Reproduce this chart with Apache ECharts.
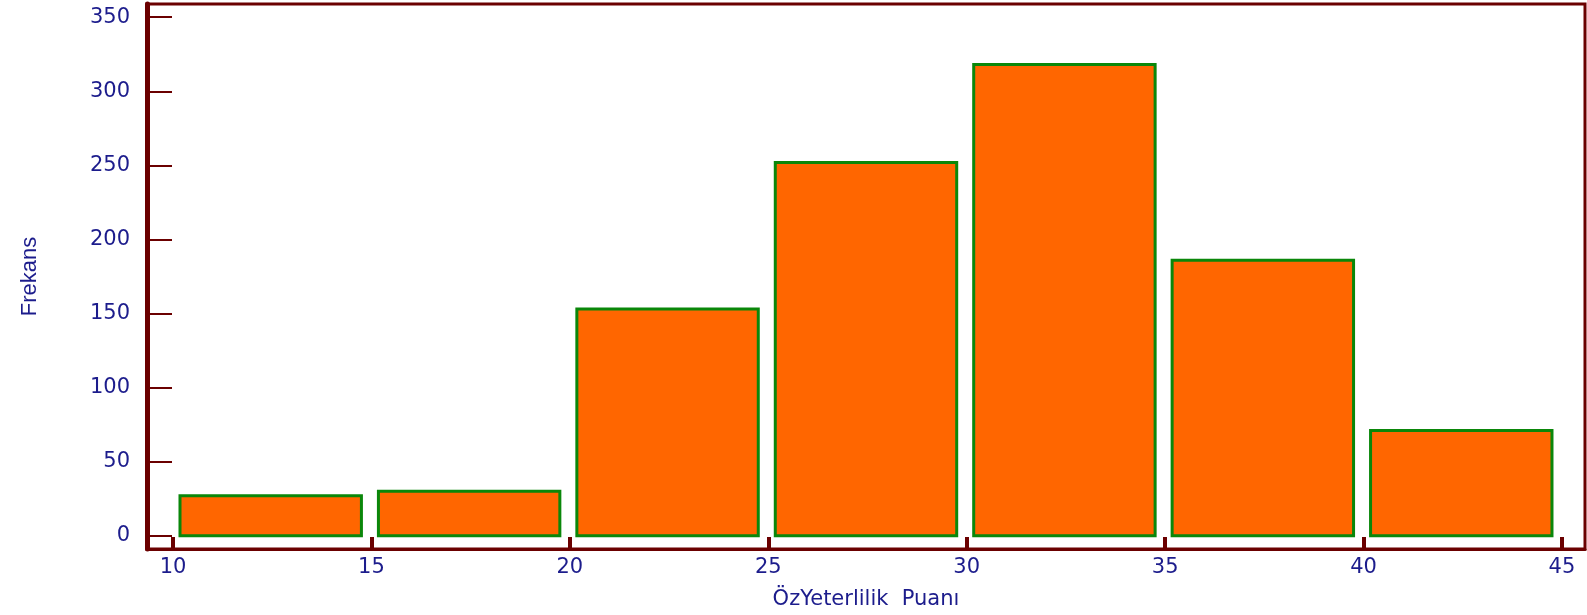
<!DOCTYPE html>
<html>
<head>
<meta charset="utf-8">
<script src="https://cdn.jsdelivr.net/npm/echarts@6/dist/echarts.min.js"></script>
<style>
html,body{margin:0;padding:0;background:#fff;}
#chart{width:1587px;height:615px;}
</style>
</head>
<body>
<div id="chart"></div>
<script>
// Histogram bins and frequencies
var binStart = [10, 15, 20, 25, 30, 35, 40];
var binEnd = [15, 20, 25, 30, 35, 40, 45];
var frequency = [27, 30, 153, 252, 318, 186, 71];
var xTicks = [10, 15, 20, 25, 30, 35, 40, 45];
var yTicks = [0, 50, 100, 150, 200, 250, 300, 350];
var xName = 'ÖzYeterlilik  Puanı';
var yName = 'Frekans';

var data = binStart.map(function (s, i) { return [s, binEnd[i], frequency[i]]; });

var axisColor = '#6B0000';
var textColor = '#1C1C8C';
var font = 'DejaVu Sans';

var chart = echarts.init(document.getElementById('chart'));
chart.setOption({
  animation: false,
  backgroundColor: '#ffffff',
  grid: {
    left: 147, right: 2, top: 4, bottom: 64,
    show: true, borderColor: axisColor, borderWidth: 3, backgroundColor: 'transparent'
  },
  xAxis: {
    type: 'value',
    min: 9.345, max: 45.58,
    name: xName,
    nameLocation: 'middle',
    nameGap: 40,
    nameTextStyle: { color: textColor, fontFamily: font, fontSize: 21 },
    splitLine: { show: false },
    axisLine: { show: true, onZero: false, lineStyle: { color: axisColor, width: 3 } },
    axisTick: { show: true, inside: true, length: 12, customValues: xTicks, lineStyle: { color: axisColor, width: 4 } },
    axisLabel: { customValues: xTicks, color: textColor, fontFamily: font, fontSize: 21, margin: 8 }
  },
  yAxis: {
    type: 'value',
    min: -8.94, max: 358.9,
    name: yName,
    nameLocation: 'middle',
    nameGap: 106,
    nameRotate: 90,
    nameTextStyle: { color: textColor, fontFamily: 'Liberation Sans Narrow, Liberation Sans, sans-serif', fontSize: 22 },
    splitLine: { show: false },
    axisLine: { show: true, onZero: false, lineStyle: { color: axisColor, width: 5 } },
    axisTick: { show: true, inside: true, length: 25, customValues: yTicks, lineStyle: { color: axisColor, width: 2 } },
    axisLabel: { customValues: yTicks, color: textColor, fontFamily: font, fontSize: 21, margin: 17 }
  },
  series: [{
    type: 'custom',
    data: data,
    encode: { x: [0, 1], y: 2 },
    renderItem: function (params, api) {
      var p0 = api.coord([api.value(0), api.value(2)]);
      var p1 = api.coord([api.value(1), 0]);
      return {
        type: 'rect',
        shape: { x: p0[0] + 7, y: p0[1], width: p1[0] - p0[0] - 17, height: p1[1] - p0[1] },
        style: { fill: '#FF6600', stroke: '#0A870A', lineWidth: 3 }
      };
    }
  }]
});
</script>
</body>
</html>
